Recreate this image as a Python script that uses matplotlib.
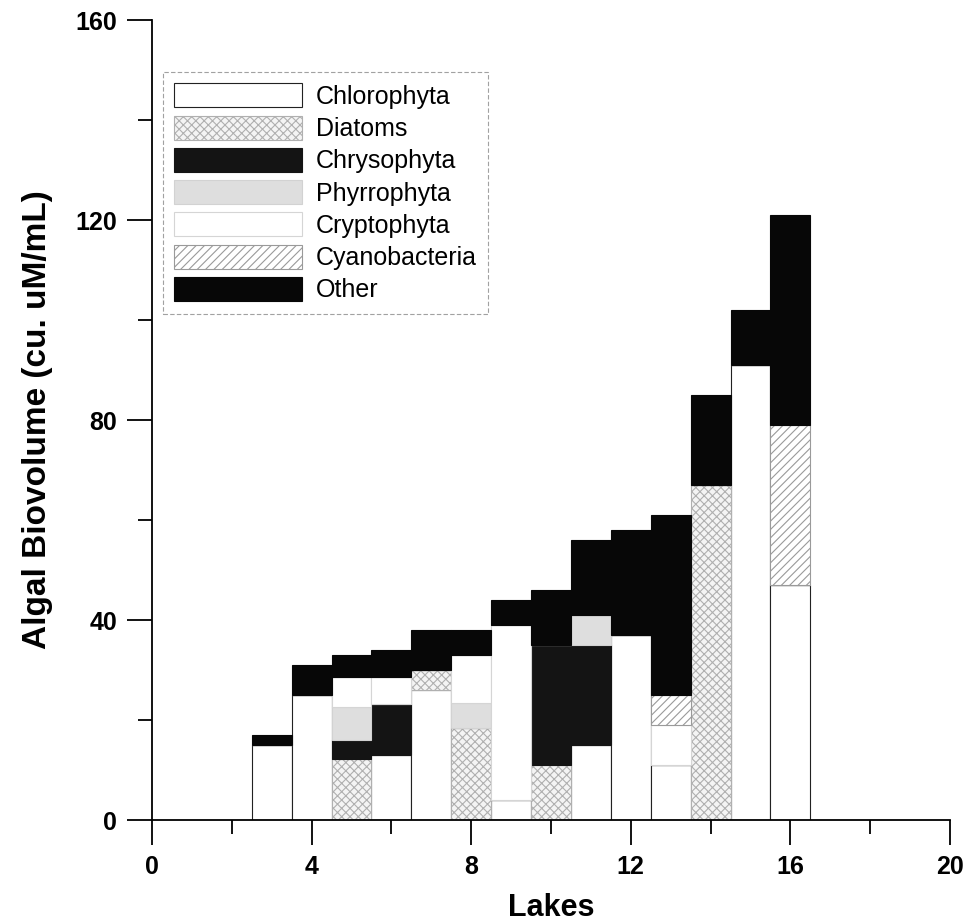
import numpy as np
import matplotlib
matplotlib.use("Agg")
import matplotlib.pyplot as plt
from matplotlib.ticker import MultipleLocator

# values (cu. uM/mL), lakes 3..16
lakes = [3, 4, 5, 6, 7, 8, 9, 10, 11, 12, 13, 14, 15, 16]
chlorophyta = [15, 25, 0, 13, 26, 0, 4, 0, 15, 37, 11, 0, 91, 47]
diatoms = [0, 0, 12.2, 0, 4, 18.5, 0, 11, 0, 0, 0, 67, 0, 0]
chrysophyta = [0, 0, 3.8, 10.2, 0, 0, 0, 24, 20, 0, 0, 0, 0, 0]
phyrrophyta = [0, 0, 6.6, 0, 0, 5, 0, 0, 6, 0, 0, 0, 0, 0]
cryptophyta = [0, 0, 6, 5.4, 0, 9.5, 35, 0, 0, 0, 8, 0, 0, 0]
cyanobacteria = [0, 0, 0, 0, 0, 0, 0, 0, 0, 0, 6, 0, 0, 32]
other = [2, 6, 4.4, 5.4, 8, 5, 5, 11, 15, 21, 36, 18, 11, 42]

groups = ["Chlorophyta", "Diatoms", "Chrysophyta", "Phyrrophyta",
          "Cryptophyta", "Cyanobacteria", "Other"]
series = [chlorophyta, diatoms, chrysophyta, phyrrophyta,
          cryptophyta, cyanobacteria, other]

# face, edge (also hatch colour), hatch
styles = {
    "Chlorophyta": ("white", "#222222", None),
    "Diatoms": ("#f4f4f4", "#b0b0b0", "xxxx"),
    "Chrysophyta": ("#141414", "#141414", None),
    "Phyrrophyta": ("#dedede", "#d2d2d2", None),
    "Cryptophyta": ("white", "#d5d5d5", None),
    "Cyanobacteria": ("white", "#9a9a9a", "////"),
    "Other": ("#070707", "#070707", None),
}

plt.rcParams["font.family"] = ["Liberation Sans", "DejaVu Sans"]
plt.rcParams["hatch.linewidth"] = 0.8

fig = plt.figure(figsize=(9.68, 9.24), dpi=100)
ax = fig.add_axes([152 / 968, 104 / 924, 798 / 968, 800 / 924])

bottom = np.zeros(len(lakes))
for name, vals in zip(groups, series):
    fc, ec, hatch = styles[name]
    ax.bar(lakes, vals, width=1.0, bottom=bottom, color=fc, edgecolor=ec,
           hatch=hatch, linewidth=0.8, label=name)
    bottom += np.array(vals)

ax.set_xlim(0, 20)
ax.set_ylim(0, 160)
ax.xaxis.set_major_locator(MultipleLocator(4))
ax.xaxis.set_minor_locator(MultipleLocator(2))
ax.yaxis.set_major_locator(MultipleLocator(40))
ax.yaxis.set_minor_locator(MultipleLocator(20))
for s in ["top", "right"]:
    ax.spines[s].set_visible(False)
for s in ["left", "bottom"]:
    ax.spines[s].set_linewidth(1.3)
ax.tick_params(which="major", length=18, width=1.3, labelsize=18, pad=7)
ax.tick_params(which="minor", length=10, width=1.3)
for lab in ax.get_xticklabels() + ax.get_yticklabels():
    lab.set_fontweight("bold")
    lab.set_family(["Liberation Sans Narrow", "Liberation Sans"])

ax.set_xlabel("Lakes", fontsize=22, fontweight="bold", labelpad=10)
ax.set_ylabel("Algal Biovolume (cu. uM/mL)", fontsize=24, fontweight="bold",
              labelpad=16)

leg = ax.legend(loc="upper left", bbox_to_anchor=(0.014, 0.935),
                borderaxespad=0, fontsize=18, handlelength=5.1,
                handleheight=1.1, handletextpad=0.56, labelspacing=0.27,
                borderpad=0.45, fancybox=False, frameon=True)
fr = leg.get_frame()
fr.set_edgecolor("#8a8a8a")
fr.set_linewidth(0.8)
fr.set_linestyle((0, (4, 2)))

fig.savefig("out.png", dpi=100)
